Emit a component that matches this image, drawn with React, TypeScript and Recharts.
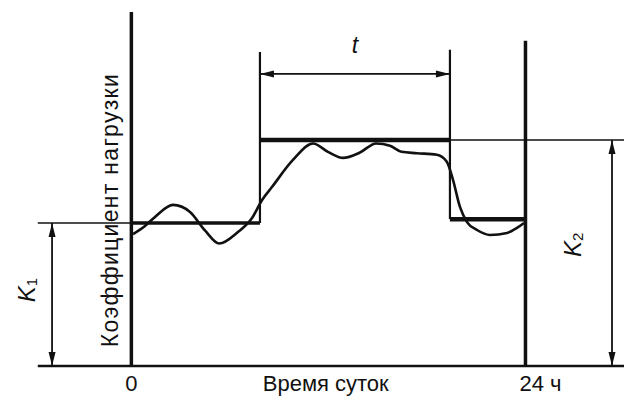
import React from 'react';
import { ComposedChart, Line, Scatter, XAxis, YAxis } from 'recharts';

// ---- data (hours of day, load coefficient) ----
const X_TICKS = [0, 24];
const X_TICK_LABELS = ['0', '24 ч'];
const X_TITLE = 'Время суток';
const Y_TITLE = 'Коэффициент нагрузки';

const K1 = 0.633;
const K2 = 1.0;
const K_LOW = 0.65;
const T_START = 7.83;
const T_END = 19.4;

const curveHours = [0.1, 0.83, 1.44, 2.54, 3.57, 4.48, 5.35, 6.49, 7.35, 7.96, 8.56, 9.84, 11.06, 11.97, 12.89, 13.92, 14.9, 15.75, 16.45, 17.39, 18.6, 19.2, 19.59, 20.01, 20.44, 21.05, 21.84, 22.88, 23.48, 23.91];
const curveLoad = [0.584, 0.62, 0.66, 0.713, 0.682, 0.6, 0.542, 0.593, 0.655, 0.735, 0.792, 0.912, 0.985, 0.948, 0.921, 0.945, 0.985, 0.975, 0.948, 0.942, 0.935, 0.905, 0.823, 0.704, 0.637, 0.602, 0.58, 0.589, 0.611, 0.633];

// frame / construction lines: [x1, y1, x2, y2]
const leftAxisSeg = [0, 0, 0, 1.567];
const rightAxisSeg = [24, 0, 24, 1.44];
const baseSeg = [-5.7, 0, 30, 0];
const k1ExtSeg = [-5.7, K1, 0, K1];
const k2ExtSeg = [T_END, K2, 30, K2];
const stepK1Seg = [0, K1, T_START, K1];
const stepK2Seg = [T_START, K2, T_END, K2];
const stepLowSeg = [T_END, K_LOW, 24, K_LOW];
const tStartSeg = [T_START, K1, T_START, 1.39];
const tEndSeg = [T_END, K_LOW, T_END, 1.4];
const T_ARROW_LEVEL = 1.293;
const K1_ARROW_HOUR = -4.83;
const K2_ARROW_HOUR = 29.27;
const tArrowSeg = [T_START, T_ARROW_LEVEL, T_END, T_ARROW_LEVEL];
const k1ArrowSeg = [K1_ARROW_HOUR, 0, K1_ARROW_HOUR, K1];
const k2ArrowSeg = [K2_ARROW_HOUR, 0, K2_ARROW_HOUR, K2];

const arrowHeads = [
  { x: T_START, y: T_ARROW_LEVEL, dir: 'left' },
  { x: T_END, y: T_ARROW_LEVEL, dir: 'right' },
  { x: K1_ARROW_HOUR, y: K1, dir: 'up' },
  { x: K1_ARROW_HOUR, y: 0, dir: 'down' },
  { x: K2_ARROW_HOUR, y: K2, dir: 'up' },
  { x: K2_ARROW_HOUR, y: 0, dir: 'down' },
];

const textMarks = [
  { x: -1.3, y: 0.69, kind: 'ytitle' },
  { x: 13.62, y: 1.421, kind: 't' },
  { x: -6.4, y: 0.336, kind: 'k1' },
  { x: 26.83, y: 0.536, kind: 'k2' },
];

const curveData = curveHours.map((x, i) => ({ x, y: curveLoad[i] }));
const seg = (s: number[]) => [{ x: s[0], y: s[1] }, { x: s[2], y: s[3] }];

const INK = '#111';
const FONT = '"Liberation Sans", Arial, sans-serif';

function ArrowHead(props: any) {
  const { cx, cy, payload } = props;
  const L = 14;
  const W = 3.5;
  let pts = '';
  if (payload.dir === 'left') pts = `${cx},${cy} ${cx + L},${cy - W} ${cx + L},${cy + W}`;
  if (payload.dir === 'right') pts = `${cx},${cy} ${cx - L},${cy - W} ${cx - L},${cy + W}`;
  if (payload.dir === 'up') pts = `${cx},${cy} ${cx - W},${cy + L} ${cx + W},${cy + L}`;
  if (payload.dir === 'down') pts = `${cx},${cy} ${cx - W},${cy - L} ${cx + W},${cy - L}`;
  return <polygon points={pts} fill={INK} />;
}

function TextMark(props: any) {
  const { cx, cy, payload } = props;
  if (payload.kind === 'ytitle') {
    return (
      <text x={cx} y={cy} transform={`rotate(-90 ${cx} ${cy})`} textAnchor="middle" dominantBaseline="central" fontFamily={FONT} fontSize={23} letterSpacing={1.3} fill={INK}>
        {Y_TITLE}
      </text>
    );
  }
  if (payload.kind === 't') {
    return (
      <text x={cx} y={cy} textAnchor="middle" dominantBaseline="central" fontFamily={FONT} fontStyle="italic" fontSize={23} fill={INK}>
        t
      </text>
    );
  }
  const sub = payload.kind === 'k1' ? '1' : '2';
  return (
    <text x={cx} y={cy} transform={`rotate(-90 ${cx} ${cy})`} textAnchor="middle" dominantBaseline="central" fontFamily={FONT} fontSize={24} fill={INK}>
      <tspan fontStyle="italic">K</tspan>
      <tspan fontSize={15} dy={5}>{sub}</tspan>
    </text>
  );
}

function XTick(props: any) {
  const { x, y, payload } = props;
  const idx = X_TICKS.indexOf(payload.value);
  const shift = payload.value === 24 ? 15 : 0;
  return (
    <text x={x + shift} y={y + 17} textAnchor="middle" fontFamily={FONT} fontSize={22} fill={INK}>
      {X_TICK_LABELS[idx]}
    </text>
  );
}

function XTitle(props: any) {
  const { viewBox } = props;
  const vb = viewBox || {};
  return (
    <text x={vb.x + vb.width * 0.522} y={vb.y + 25} textAnchor="middle" fontFamily={FONT} fontSize={22} fill={INK}>
      {X_TITLE}
    </text>
  );
}

const lineSpecs: { s: number[]; w: number }[] = [
  { s: baseSeg, w: 2.5 },
  { s: leftAxisSeg, w: 3.5 },
  { s: rightAxisSeg, w: 3.5 },
  { s: k1ExtSeg, w: 1.6 },
  { s: k2ExtSeg, w: 1.6 },
  { s: tStartSeg, w: 2.2 },
  { s: tEndSeg, w: 2.2 },
  { s: stepK1Seg, w: 3.5 },
  { s: stepK2Seg, w: 4.5 },
  { s: stepLowSeg, w: 4.5 },
  { s: tArrowSeg, w: 1.8 },
  { s: k1ArrowSeg, w: 1.8 },
  { s: k2ArrowSeg, w: 1.8 },
];

export default function App() {
  return (
    <div style={{ position: 'absolute', left: 0, top: 0, width: 624, height: 403, background: '#fff' }}>
      <ComposedChart width={624} height={403} margin={{ top: 0, right: 0, bottom: 0, left: 0 }}>
        <XAxis
          dataKey="x"
          type="number"
          domain={[-8, 30]}
          ticks={X_TICKS}
          axisLine={false}
          tickLine={false}
          height={37}
          tick={<XTick />}
          label={{ content: <XTitle /> }}
          allowDataOverflow
        />
        <YAxis dataKey="y" type="number" domain={[0, 1.62]} hide allowDataOverflow={false} />
        {lineSpecs.map((l, i) => (
          <Line
            key={i}
            data={seg(l.s)}
            dataKey="y"
            type="linear"
            stroke={INK}
            strokeWidth={l.w}
            dot={false}
            activeDot={false}
            isAnimationActive={false}
            strokeLinecap="butt"
          />
        ))}
        <Line data={curveData} dataKey="y" type="monotone" stroke={INK} strokeWidth={2.6} dot={false} activeDot={false} isAnimationActive={false} />
        <Scatter data={arrowHeads} dataKey="y" shape={<ArrowHead />} isAnimationActive={false} />
        <Scatter data={textMarks} dataKey="y" shape={<TextMark />} isAnimationActive={false} />
      </ComposedChart>
    </div>
  );
}
